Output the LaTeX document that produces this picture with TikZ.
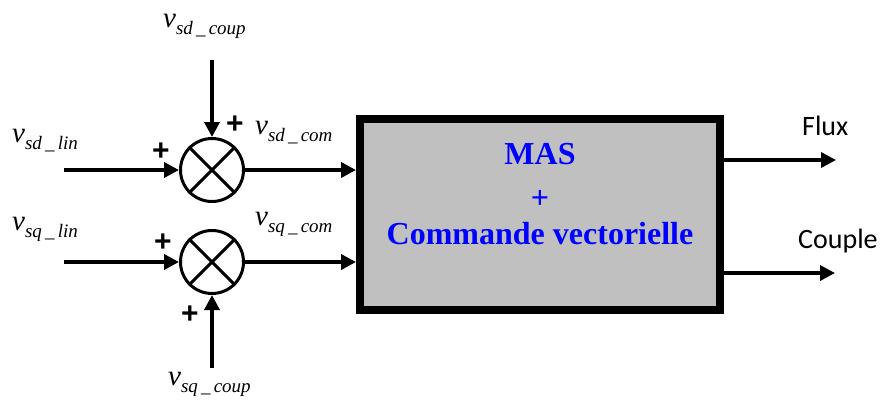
\documentclass[tikz,border=0pt]{standalone}
\usepackage{fontspec}
\setmainfont{Liberation Serif}
\newfontfamily\calfont{Carlito}
\newfontfamily\plusfont{Liberation Sans}
\usetikzlibrary{arrows.meta}
\newcommand{\vsig}[2]{{\fontsize{29}{29}\selectfont\itshape v}\raisebox{-7pt}{\fontsize{19}{19}\selectfont\itshape #1\,\_\,#2}}
\definecolor{boxgray}{RGB}{192,192,192}
\begin{document}
\begin{tikzpicture}[x=1pt,y=-1pt,
  arr/.style={line width=3.5pt,-{Triangle[length=15pt,width=15pt]}},
  sumnode/.style={circle,draw,line width=3pt,minimum size=63pt,inner sep=0pt},
  lab/.style={anchor=base west,inner sep=0pt},
  plus/.style={inner sep=0pt,font=\plusfont\bfseries\fontsize{30}{30}\selectfont},
  boxtxt/.style={anchor=base,inner sep=0pt,text=blue,font=\bfseries\fontsize{32}{32}\selectfont},
  outtxt/.style={anchor=base west,inner sep=0pt,font=\calfont\fontsize{28}{28}\selectfont}]
\useasboundingbox (0,0) rectangle (882,407);
% main block
\node[draw,line width=8pt,fill=boxgray,minimum width=360pt,minimum height=191pt,inner sep=0pt] (box) at (540,214.5) {};
\node[boxtxt] (t1) at (540,164.5) {MAS};
\node[boxtxt] (t2) at (540,208) {+};
\node[boxtxt] (t3) at (540,244) {Commande vectorielle};
% summing junctions
\node[sumnode] (s1) at (212,170) {};
\node[sumnode] (s2) at (212,262) {};
\foreach \s in {s1,s2}{
  \draw[line width=3pt] (\s.north east) -- (\s.south west);
  \draw[line width=3pt] (\s.north west) -- (\s.south east);
}
% inputs
\coordinate (in1) at (64,170);
\coordinate (in2) at (64,262);
\coordinate (top1) at (212,60);
\coordinate (bot2) at (212,368);
\draw[arr] (in1) -- (s1.west);
\draw[arr] (top1) -- (s1.north);
\draw[arr] (in2) -- (s2.west);
\draw[arr] (bot2) -- (s2.south);
\draw[arr] (s1.east) -- (s1.east -| box.west);
\draw[arr] (s2.east) -- (s2.east -| box.west);
% outputs
\coordinate (o1) at (836,160);
\coordinate (o2) at (835,273);
\draw[arr] (o1 -| box.east) -- (o1);
\draw[arr] (o2 -| box.east) -- (o2);
\node[outtxt] (flux) at (802,135) {Flux};
\node[outtxt] (couple) at (798,248) {Couple};
% labels
\node[lab] (l1) at (12,142) {\vsig{sd}{lin}};
\node[lab] (l2) at (163,27) {\vsig{sd}{coup}};
\node[lab] (l3) at (255,134) {\vsig{sd}{com}};
\node[lab] (l4) at (12,230) {\vsig{sq}{lin}};
\node[lab] (l5) at (255,225) {\vsig{sq}{com}};
\node[lab] (l6) at (168,385) {\vsig{sq}{coup}};
% plus signs
\node[plus] (p1) at (235,125) {+};
\node[plus] (p2) at (161,152) {+};
\node[plus] (p3) at (163,243) {+};
\node[plus] (p4) at (190,315) {+};
\end{tikzpicture}
\end{document}
